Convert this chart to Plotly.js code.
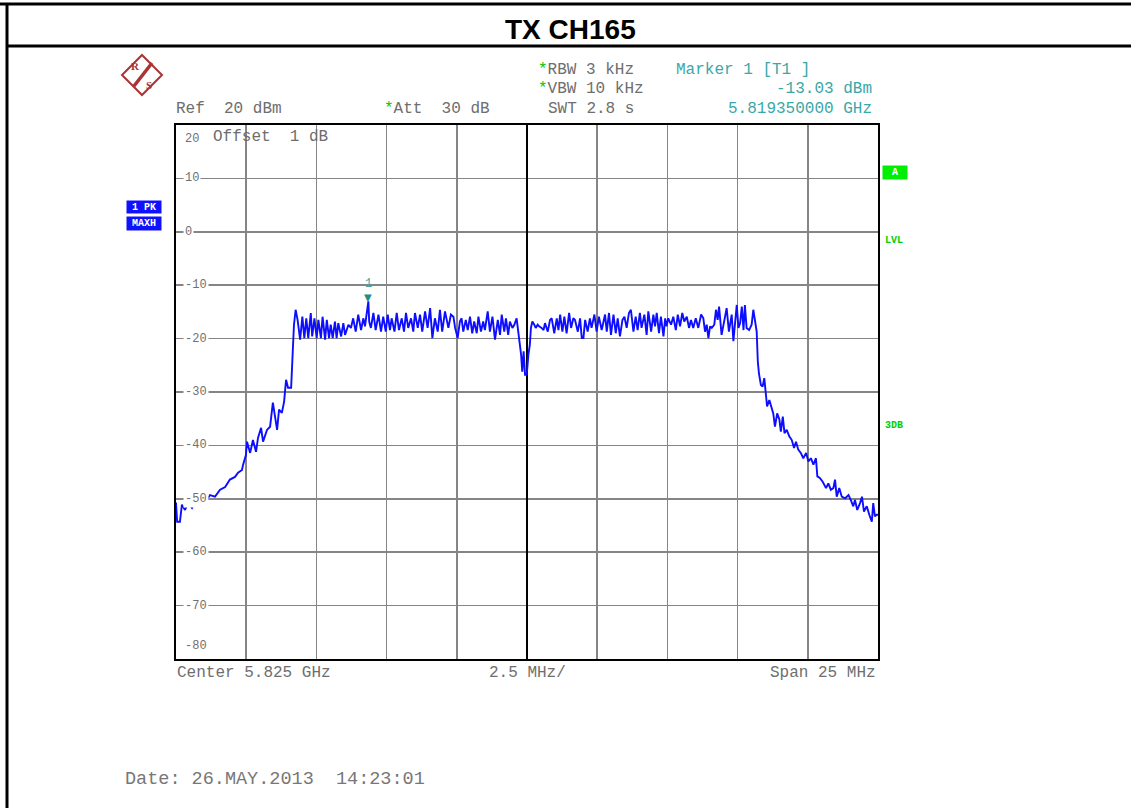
<!DOCTYPE html>
<html>
<head>
<meta charset="utf-8">
<script src="https://cdn.plot.ly/plotly-3.0.1.min.js"></script>
<style>html,body{margin:0;padding:0;background:#fff;}#chart{width:1131px;height:808px;}</style>
</head>
<body>
<div id="chart"></div>
<script>
// ---- Data ----
const centerGHz = 5.825;
const spanMHz = 25;
const refLevelDbm = 20;
const bottomLevelDbm = -80;
const gridStepMHz = 2.5;
const yTickValues = [20, 10, 0, -10, -20, -30, -40, -50, -60, -70, -80];
const yTickLabels = ["20", "10", "0", "-10", "-20", "-30", "-40", "-50", "-60", "-70", "-80"];

// frequency offset from centre (MHz)
const freqOffsetMHz = [
-12.50,-12.46,-12.36,-12.29,-12.18,-12.07,-11.93,-11.82,-11.72,-11.54,-11.40,-11.29,-11.11,-10.93,-10.75,-10.58,-10.40,-10.29,-10.15,-10.11,-10.01,-9.97,-9.86,-9.76,-9.65,-9.58,-9.47,-9.40,-9.26,-9.15,-9.05,-8.97,-8.90,-8.83,-8.73,-8.65,-8.58,-8.51,-8.40,-8.35,-8.30,-8.24,
-8.17,-8.08,-8.00,-7.93,-7.86,-7.79,-7.70,-7.65,-7.57,-7.49,-7.43,-7.34,-7.28,-7.19,-7.13,-7.05,-6.99,-6.92,-6.84,-6.78,-6.72,-6.62,-6.54,-6.48,-6.36,-6.27,-6.19,-6.10,-6.01,-5.91,-5.83,-5.77,-5.65,-5.62,-5.56,-5.47,-5.39,-5.29,-5.20,-5.12,-5.03,-4.96,-4.88,-4.82,-4.72,-4.64,-4.56,-4.46,-4.38,-4.31,-4.23,-4.13,-4.05,-3.99,-3.89,-3.81,-3.73,-3.63,-3.54,-3.45,-3.37,-3.28,-3.18,-3.10,-3.02,-2.92,-2.80,
-2.71,-2.62,-2.56,-2.47,-2.39,-2.33,-2.27,-2.18,-2.11,-2.03,-1.95,-1.88,-1.79,-1.73,-1.64,-1.56,-1.50,-1.40,-1.32,-1.23,-1.14,-1.04,-0.96,-0.90,-0.81,-0.75,-0.67,-0.61,-0.52,-0.45,-0.37,-0.31,-0.29,-0.21,-0.17,-0.12,-0.07,-0.01,
0.05,0.10,0.14,0.19,0.26,0.31,0.38,0.43,0.52,0.59,0.64,0.74,0.82,0.88,0.97,1.06,1.12,1.18,1.26,1.33,1.41,1.50,1.57,1.65,1.71,1.81,1.89,1.95,2.01,2.07,2.16,2.24,2.30,2.40,2.48,2.56,2.66,
2.78,2.84,2.92,2.99,3.08,3.16,3.23,3.31,3.40,3.47,3.55,3.63,3.70,3.79,3.87,3.94,4.02,4.08,4.18,4.26,4.32,4.42,4.50,4.56,4.62,4.70,4.77,4.86,4.92,4.97,5.03,5.13,5.21,5.30,5.37,5.45,5.53,5.60,5.69,5.77,5.84,5.92,6.01,6.10,6.20,6.28,6.34,6.40,6.46,6.52,6.58,6.67,6.73,6.79,6.84,6.93,6.99,7.05,7.11,7.19,7.29,7.35,7.41,7.47,7.53,7.59,7.65,7.71,7.76,7.82,7.91,8.00,8.06,8.12,8.18,
8.22,8.26,8.33,8.39,8.45,8.50,8.55,8.63,8.71,8.77,8.83,8.91,8.99,9.04,9.11,9.17,9.25,9.34,9.43,9.51,9.58,9.66,9.75,9.84,9.94,10.02,10.11,10.20,10.29,10.34,10.43,10.53,10.65,10.73,10.82,10.91,10.97,11.03,11.12,11.21,11.33,11.45,11.53,11.62,11.68,11.76,11.86,11.93,12.00,12.10,12.19,12.28,12.33,12.39,12.45,12.50
];

// trace level (dBm)
const levelDbm = [
-50.7,-54.3,-54.3,-51.1,-52.1,-50.7,-51.7,-50.6,-51.1,-49.6,-50.2,-49.3,-49.6,-48.3,-47.8,-46.4,-45.9,-45.1,-44.6,-43.6,-41.8,-39.3,-41.4,-39.0,-41.2,-38.6,-36.7,-39.3,-37.1,-36.5,-32.0,-35.2,-37.1,-33.3,-33.9,-31.8,-27.7,-29.2,-29.2,-23.4,-17.5,-14.6,
-16.5,-20.2,-15.9,-19.9,-16.2,-19.9,-15.2,-19.6,-16.2,-19.9,-16.5,-19.9,-15.9,-20.2,-16.5,-19.9,-17.4,-19.9,-16.8,-19.9,-17.1,-19.6,-17.1,-19.3,-17.4,-18.0,-16.2,-18.7,-15.5,-18.4,-16.2,-17.7,-13.03,-16.8,-18.0,-15.2,-18.4,-15.5,-18.7,-15.9,-18.7,-15.5,-18.4,-16.2,-18.7,-15.2,-18.4,-16.2,-18.7,-15.2,-18.0,-16.2,-18.7,-15.2,-18.0,-15.5,-18.7,-14.9,-18.0,-14.3,-19.9,-16.2,-18.7,-14.6,-18.7,-14.9,-18.0,
-15.5,-15.9,-18.0,-19.9,-16.8,-16.2,-18.7,-16.5,-18.4,-15.9,-19.0,-16.8,-19.0,-15.9,-18.7,-16.8,-18.4,-14.9,-18.7,-15.9,-20.2,-16.5,-19.3,-15.5,-18.7,-16.2,-19.3,-16.8,-18.0,-17.4,-16.2,-18.7,-19.9,-23.0,-26.2,-22.4,-26.8,-26.8,
-23.0,-21.2,-18.0,-16.8,-17.4,-18.0,-17.4,-17.7,-18.0,-18.4,-17.1,-18.7,-16.5,-16.2,-19.0,-16.2,-18.4,-15.5,-18.7,-15.9,-19.0,-15.2,-18.0,-16.2,-16.5,-18.7,-16.2,-19.9,-19.9,-16.5,-18.7,-16.2,-18.0,-15.5,-18.7,-15.9,-18.4,
-15.5,-18.7,-15.2,-19.3,-15.5,-19.0,-16.2,-19.6,-16.5,-15.9,-18.0,-15.2,-14.6,-18.7,-15.9,-18.4,-15.2,-18.0,-15.5,-19.3,-14.9,-18.7,-15.5,-17.7,-15.2,-19.0,-15.9,-19.6,-16.2,-17.7,-16.2,-17.4,-15.9,-18.4,-15.5,-17.7,-15.2,-16.8,-15.9,-18.0,-16.5,-18.0,-16.2,-18.0,-15.5,-16.2,-18.7,-17.4,-19.9,-17.7,-18.0,-17.4,-14.6,-16.5,-14.0,-19.3,-17.4,-16.2,-14.3,-18.7,-15.5,-20.5,-16.8,-13.7,-18.0,-17.1,-14.0,-18.4,-13.7,-18.0,-18.4,-17.4,-14.6,-16.5,-18.7,
-24.3,-26.5,-28.7,-29.0,-27.4,-30.2,-32.7,-31.5,-32.7,-34.0,-36.5,-34.0,-35.2,-37.4,-34.6,-37.7,-37.1,-38.3,-39.0,-40.5,-39.3,-40.8,-41.4,-42.4,-41.4,-43.0,-42.4,-43.6,-42.4,-45.8,-46.1,-46.8,-48.0,-47.1,-48.3,-48.0,-46.4,-49.6,-48.0,-49.6,-49.9,-49.3,-50.2,-51.4,-50.2,-52.1,-50.8,-49.6,-52.4,-51.4,-53.0,-54.3,-50.8,-53.3,-53.0,-53.0
];

// marker 1
const markerFreqGHz = 5.81935;
const markerLevelDbm = -13.03;
const markerLabel = "1";

// instrument texts
const titleText = "TX CH165";
const rbwText = "RBW 3 kHz";
const vbwText = "VBW 10 kHz";
const refText = "Ref  20 dBm";
const attText = "Att  30 dB";
const swtText = "SWT 2.8 s";
const markerTitle = "Marker 1 [T1 ]";
const markerLevelText = "-13.03 dBm";
const markerFreqText = "5.819350000 GHz";
const offsetText = "Offset  1 dB";
const centerText = "Center 5.825 GHz";
const divText = "2.5 MHz/";
const spanText = "Span 25 MHz";
const dateText = "Date: 26.MAY.2013  14:23:01";

// ---- Layout helpers (pixel placement of decorations) ----
const L = 176, R = 878, T = 125, B = 659;
const px = v => (v - L) / (R - L);
const py = v => (B - v) / (B - T);

const mono = "Liberation Mono, DejaVu Sans Mono, monospace";
const gray = "#6e6e6e";
const teal = "#3aa8a8";
const green = "#00d000";
const star = '<span style="color:#00c800">*</span>';

function txt(text, x, y, opt) {
  opt = opt || {};
  return Object.assign({
    text: text, xref: "paper", yref: "paper", x: px(x), y: py(y),
    xanchor: opt.xa || "left", yanchor: "middle", showarrow: false,
    font: {family: mono, size: opt.size || 16, color: opt.color || gray}
  }, opt.extra || {});
}

const markerOffset = (markerFreqGHz - centerGHz) * 1000;

const annotations = [
  {text: "<b>" + titleText + "</b>", xref: "paper", yref: "paper", x: px(570), y: py(29), xanchor: "center", yanchor: "middle", showarrow: false,
   font: {family: "Liberation Sans, Arial, sans-serif", size: 28, color: "#000"}},
  txt(star + rbwText, 536, 70),
  txt(star + vbwText, 536, 89),
  txt(markerTitle, 674, 70, {color: teal}),
  txt(markerLevelText, 874, 89, {color: teal, xa: "right"}),
  txt(refText, 174, 109),
  txt(star + attText, 382, 109),
  txt(swtText, 546, 109),
  txt(markerFreqText, 874, 109, {color: teal, xa: "right"}),
  txt(offsetText, 211, 137),
  txt(centerText, 175, 673),
  txt(divText, 527, 673, {xa: "center"}),
  txt(spanText, 878, 673, {xa: "right"}),
  txt(dateText, 123, 779, {size: 18.5, color: "#777"}),
  // trace/status boxes
  {text: "<b>1 PK</b>", xref: "paper", yref: "paper", x: px(144), y: py(207), xanchor: "center", yanchor: "middle", showarrow: false,
   bgcolor: "#1010ff", width: 34, height: 12, borderpad: 0, font: {family: mono, size: 10, color: "#fff"}},
  {text: "<b>MAXH</b>", xref: "paper", yref: "paper", x: px(144), y: py(223), xanchor: "center", yanchor: "middle", showarrow: false,
   bgcolor: "#1010ff", width: 34, height: 13, borderpad: 0, font: {family: mono, size: 10, color: "#fff"}},
  {text: "<b>A</b>", xref: "paper", yref: "paper", x: px(895), y: py(172), xanchor: "center", yanchor: "middle", showarrow: false,
   bgcolor: "#00ee00", width: 24, height: 13, borderpad: 0, font: {family: mono, size: 10, color: "#fff"}},
  txt("<b>LVL</b>", 883, 240, {size: 10, color: green}),
  txt("<b>3DB</b>", 883, 425, {size: 10, color: green}),
  // R&S logo letters
  txt("<b>R</b>", 135, 66, {xa: "center", extra: {font: {family: "Liberation Serif, serif", size: 11, color: "#a33"}}}),
  txt("<b>S</b>", 149, 85, {xa: "center", extra: {font: {family: "Liberation Serif, serif", size: 11, color: "#a33"}}}),
  // marker symbol and label
  {text: "▼", x: markerOffset, y: markerLevelDbm, xref: "x", yref: "y", xanchor: "center", yanchor: "bottom", yshift: -4, showarrow: false,
   font: {family: "DejaVu Sans", size: 10, color: "#1f8f86"}},
  {text: markerLabel, x: markerOffset, y: markerLevelDbm, xref: "x", yref: "y", xanchor: "center", yanchor: "bottom", yshift: 8, showarrow: false,
   font: {family: mono, size: 12, color: teal}}
];

// y tick labels drawn inside the grid, like the analyser screen
yTickValues.forEach((v, i) => {
  const edge = (v === refLevelDbm || v === bottomLevelDbm);
  annotations.push({
    text: yTickLabels[i], xref: "paper", yref: "y", x: px(183), y: v, xanchor: "left",
    yanchor: v === refLevelDbm ? "top" : (v === bottomLevelDbm ? "bottom" : "middle"),
    yshift: v === refLevelDbm ? -5 : (v === bottomLevelDbm ? 4 : 0),
    showarrow: false, bgcolor: edge ? "rgba(0,0,0,0)" : "#fff",
    borderpad: 1, font: {family: mono, size: 12, color: "#707070"}
  });
});

const shapes = [
  // page frame
  {type: "line", xref: "paper", yref: "paper", x0: px(0), x1: px(1131), y0: py(4), y1: py(4), line: {color: "#000", width: 3}},
  {type: "line", xref: "paper", yref: "paper", x0: px(7), x1: px(1131), y0: py(46), y1: py(46), line: {color: "#000", width: 3}},
  {type: "line", xref: "paper", yref: "paper", x0: px(7), x1: px(7), y0: py(3), y1: py(808), line: {color: "#000", width: 3}},
  // R&S logo diamond
  {type: "path", xref: "paper", yref: "paper",
   path: `M ${px(142)} ${py(55)} L ${px(162)} ${py(75)} L ${px(142)} ${py(95)} L ${px(122)} ${py(75)} Z`,
   line: {color: "#a33", width: 2}},
  {type: "line", xref: "paper", yref: "paper", x0: px(134), x1: px(152), y0: py(86), y1: py(63), line: {color: "#a33", width: 3.5}}
];

const half = spanMHz / 2;
const gridVals = [];
for (let k = -4; k <= 4; k++) gridVals.push(k * gridStepMHz);

const trace = {
  x: freqOffsetMHz, y: levelDbm, type: "scatter", mode: "lines",
  line: {color: "#0d0dff", width: 1.9}, hoverinfo: "skip"
};

const layout = {
  width: 1131, height: 808,
  margin: {l: L, r: 1131 - R, t: T, b: 808 - B, pad: 0},
  paper_bgcolor: "#fff", plot_bgcolor: "#fff",
  showlegend: false,
  xaxis: {range: [-half, half], tickvals: gridVals, showticklabels: false, ticks: "",
          showgrid: true, gridcolor: "#858585", gridwidth: 1.6,
          zeroline: true, zerolinecolor: "#000", zerolinewidth: 2,
          showline: true, mirror: true, linecolor: "#000", linewidth: 2, fixedrange: true},
  yaxis: {range: [bottomLevelDbm, refLevelDbm], tickvals: yTickValues.slice(1, -1), showticklabels: false, ticks: "",
          showgrid: true, gridcolor: "#858585", gridwidth: 1.6, zeroline: false,
          showline: true, mirror: true, linecolor: "#000", linewidth: 2, fixedrange: true},
  annotations: annotations,
  shapes: shapes
};

Plotly.newPlot("chart", [trace], layout, {staticPlot: true, displayModeBar: false});
</script>
</body>
</html>
